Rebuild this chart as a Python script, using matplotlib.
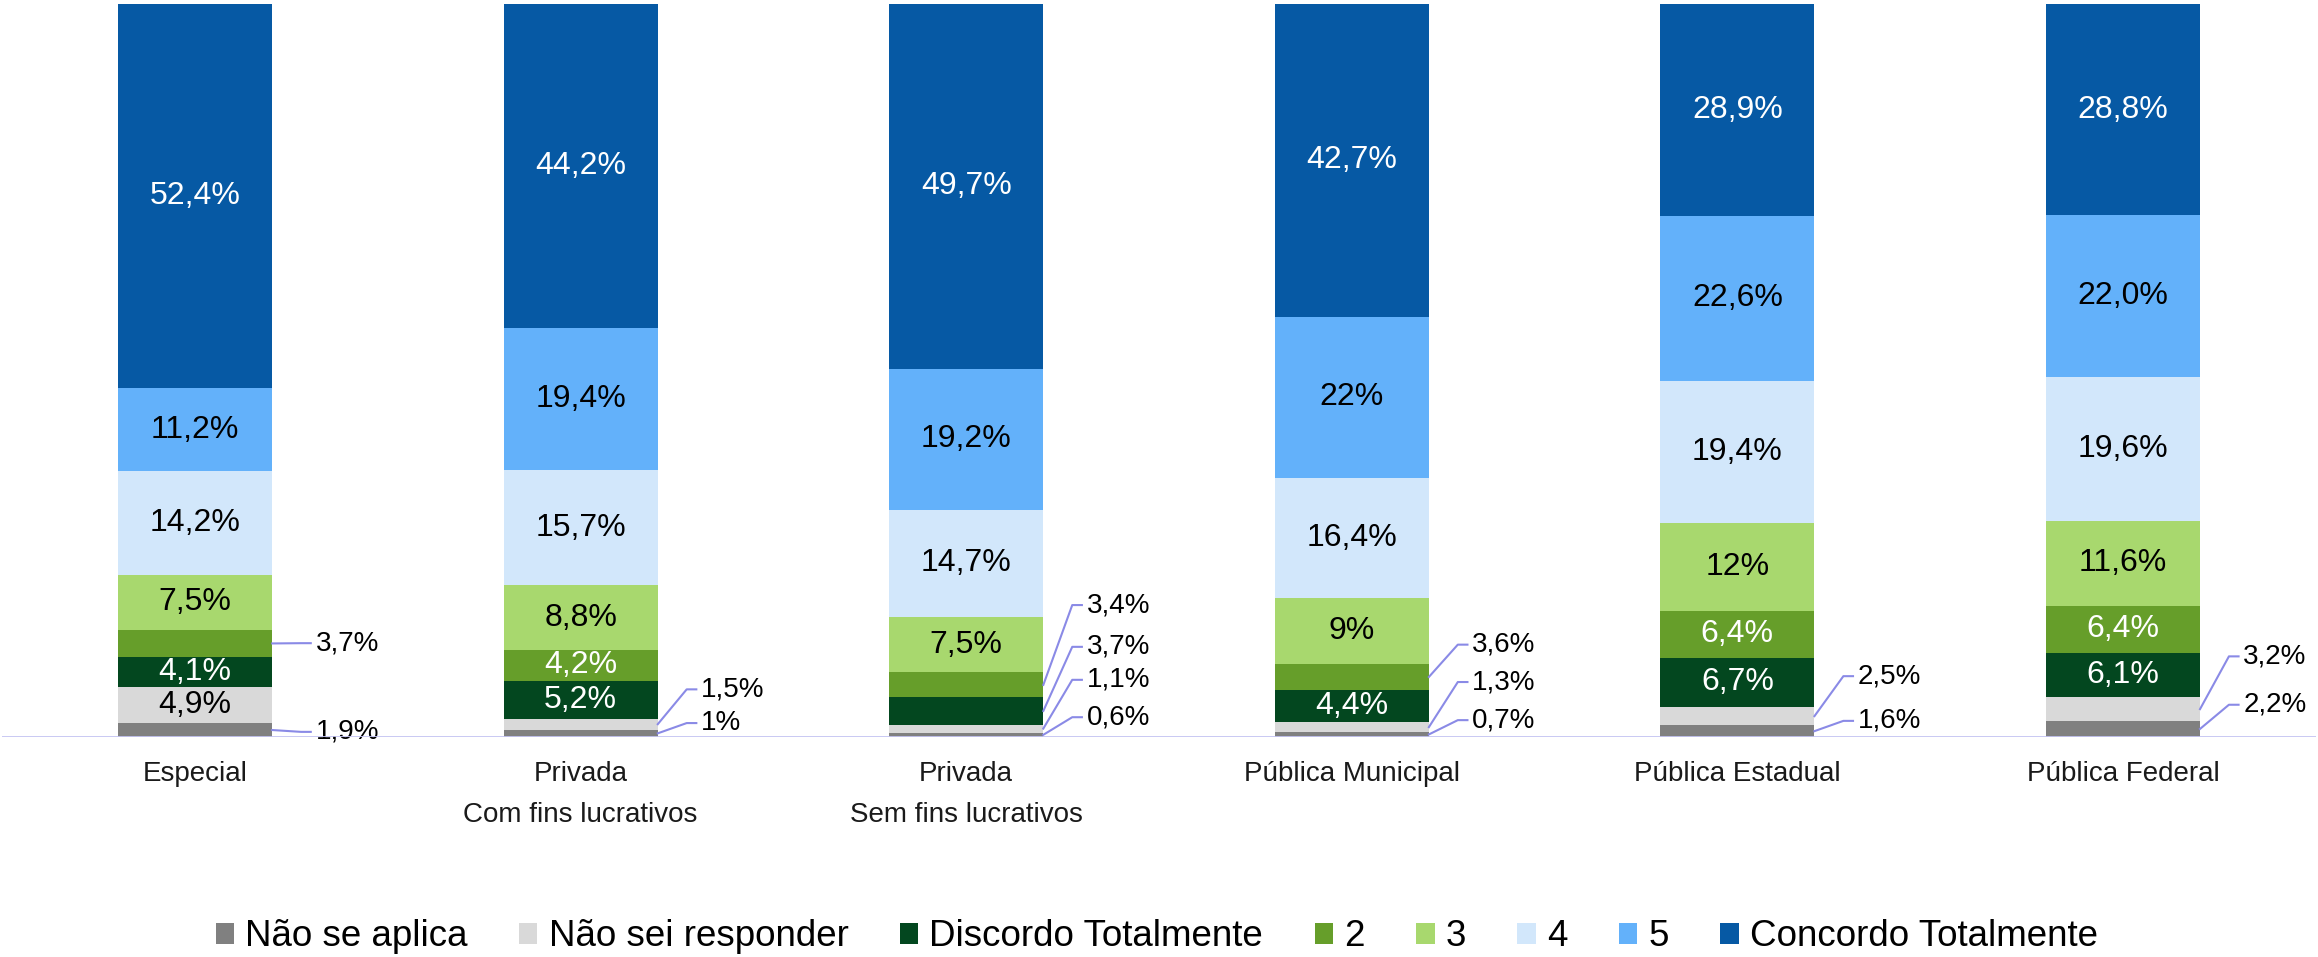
import numpy as np
import matplotlib.pyplot as plt

plt.rcParams['font.family'] = ['Liberation Sans', 'DejaVu Sans']

# dados (percentuais como aparecem nos rotulos)
categories = ['Especial', 'Privada\nCom fins lucrativos', 'Privada\nSem fins lucrativos',
              'Pública Municipal', 'Pública Estadual', 'Pública Federal']
series = ['Não se aplica', 'Não sei responder', 'Discordo Totalmente', '2', '3', '4', '5',
          'Concordo Totalmente']
nao_se_aplica = ['1,9', '1', '0,6', '0,7', '1,6', '2,2']
nao_sei = ['4,9', '1,5', '1,1', '1,3', '2,5', '3,2']
discordo = ['4,1', '5,2', '3,7', '4,4', '6,7', '6,1']
nivel_2 = ['3,7', '4,2', '3,4', '3,6', '6,4', '6,4']
nivel_3 = ['7,5', '8,8', '7,5', '9', '12', '11,6']
nivel_4 = ['14,2', '15,7', '14,7', '16,4', '19,4', '19,6']
nivel_5 = ['11,2', '19,4', '19,2', '22', '22,6', '22,0']
concordo = ['52,4', '44,2', '49,7', '42,7', '28,9', '28,8']

data = [nao_se_aplica, nao_sei, discordo, nivel_2, nivel_3, nivel_4, nivel_5, concordo]
colors = ['#808080', '#d9d9d9', '#03471f', '#669e2a', '#a8d86e', '#d2e7fb', '#63b1fa', '#0659a4']
txt_colors = ['black', 'black', 'white', 'white', 'black', 'black', 'black', 'white']

# rotulos que ficam fora da barra: (barra, serie) -> altura do rotulo
outside = {(0, 3): 12.8, (0, 0): 0.7,
           (1, 1): 6.5, (1, 0): 1.9,
           (2, 3): 18.0, (2, 2): 12.3, (2, 1): 7.8, (2, 0): 2.7,
           (3, 3): 12.6, (3, 1): 7.5, (3, 0): 2.3,
           (4, 1): 8.3, (4, 0): 2.2,
           (5, 1): 11.0, (5, 0): 4.4}

vals = np.array([[float(s.replace(',', '.')) for s in row] for row in data])
totals = vals.sum(axis=0)
heights = vals / totals * 100

fig = plt.figure(figsize=(23.18, 9.57), dpi=100)
ax = fig.add_axes([0.001, 1 - 737 / 957, 0.998, (737 - 4) / 957])

x = np.arange(len(categories))
w = 0.4
bottom = np.zeros(len(categories))
for k in range(len(series)):
    ax.bar(x, heights[k], w, bottom=bottom, color=colors[k], label=series[k], zorder=2)
    for i in range(len(categories)):
        c = bottom[i] + heights[k][i] / 2
        lab = data[k][i] + '%'
        if (i, k) in outside:
            ly = outside[(i, k)]
            e = x[i] + w / 2
            ax.plot([e, e + 0.075, e + 0.1], [c, ly, ly], color='#8a8ae6', lw=1.5, zorder=3)
            ax.text(e + 0.112, ly, lab, ha='left', va='center', fontsize=20, color='black')
        else:
            ax.text(x[i], c, lab, ha='center', va='center', fontsize=23, color=txt_colors[k])
    bottom += heights[k]

ax.axhline(0, color='#c4c4f2', lw=2, zorder=4)
ax.set_xlim(-0.5, len(categories) - 0.5)
ax.set_ylim(0, 100)
ax.set_xticks(x)
ax.set_xticklabels(categories, fontsize=20, color='#1a1a1a', linespacing=1.75)
ax.tick_params(axis='x', length=0, pad=17)
ax.set_yticks([])
for s in ax.spines.values():
    s.set_visible(False)

fig.legend(loc='center', bbox_to_anchor=(0.499, 1 - 937 / 957), ncol=8, frameon=False,
           fontsize=26.5, handlelength=0.5, handleheight=0.5, handletextpad=0.3,
           columnspacing=1.4)

fig.savefig('out.png', dpi=100)
